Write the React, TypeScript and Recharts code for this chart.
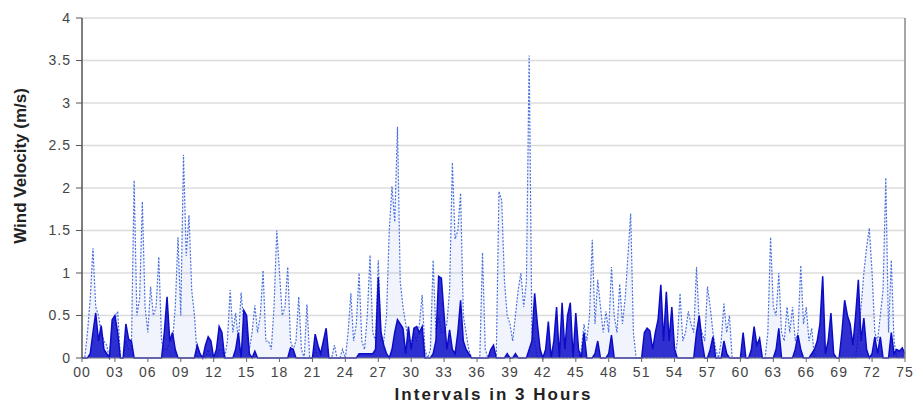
import {
  ComposedChart, Area, XAxis, YAxis, CartesianGrid, ReferenceLine,
} from 'recharts'

const SOLID = '#0c0cc8'
const DOTTED = '#4d71de'
const TICK = '#444'
const FONT = 'Liberation Sans, Arial, sans-serif'

// one row per 3-hour block, samples every 0.25 interval
const SOLID_ROWS: number[][] = [
  [0, 0, 0, 0.05, 0.3, 0.53, 0.2, 0.38, 0.1, 0.05, 0, 0.45],
  [0.5, 0.3, 0, 0, 0.4, 0.22, 0.2, 0, 0, 0, 0, 0],
  [0, 0, 0, 0, 0, 0, 0.3, 0.72, 0.2, 0.3, 0.1, 0],
  [0, 0, 0, 0, 0, 0, 0.15, 0.05, 0, 0.15, 0.25, 0.2],
  [0, 0.1, 0.37, 0.3, 0, 0, 0, 0, 0.1, 0.3, 0, 0.56],
  [0.5, 0.05, 0, 0.08, 0, 0, 0, 0, 0, 0, 0, 0],
  [0, 0, 0, 0, 0.12, 0.1, 0, 0, 0, 0, 0, 0],
  [0, 0.28, 0.15, 0.05, 0.2, 0.35, 0, 0, 0, 0, 0, 0],
  [0, 0, 0, 0, 0, 0.05, 0.05, 0.05, 0.05, 0.05, 0.05, 0.1],
  [0.95, 0.3, 0.15, 0.05, 0, 0.1, 0.3, 0.45, 0.4, 0.35, 0.05, 0.37],
  [0.1, 0.35, 0.37, 0.3, 0.37, 0, 0, 0, 0.05, 0.2, 0.96, 0.94],
  [0.5, 0.1, 0.33, 0.1, 0.05, 0.3, 0.68, 0.2, 0.1, 0.05, 0, 0],
  [0, 0, 0, 0, 0, 0.1, 0.15, 0, 0, 0, 0, 0.05],
  [0, 0, 0.05, 0, 0, 0, 0, 0.1, 0.2, 0.76, 0.4, 0.1],
  [0, 0.1, 0.43, 0, 0.2, 0.6, 0, 0.65, 0.1, 0.5, 0.65, 0],
  [0.53, 0.1, 0, 0.3, 0, 0, 0, 0.05, 0.2, 0, 0, 0],
  [0.05, 0.27, 0, 0, 0, 0, 0, 0, 0, 0, 0, 0],
  [0, 0.3, 0.35, 0.32, 0.1, 0.3, 0.45, 0.86, 0.2, 0.78, 0.2, 0.6],
  [0.1, 0, 0, 0, 0, 0, 0, 0, 0.3, 0.5, 0.2, 0],
  [0, 0.1, 0.25, 0, 0, 0, 0.2, 0.05, 0, 0, 0, 0],
  [0, 0.3, 0, 0, 0.1, 0.37, 0.15, 0.23, 0, 0, 0, 0],
  [0, 0.1, 0.35, 0, 0, 0, 0, 0, 0.1, 0.27, 0.1, 0],
  [0, 0, 0.05, 0.1, 0.2, 0.4, 0.96, 0.05, 0.2, 0.53, 0.05, 0],
  [0, 0.3, 0.68, 0.5, 0.4, 0.15, 0.5, 0.92, 0.2, 0.47, 0.1, 0],
  [0.05, 0.25, 0.05, 0.25, 0, 0, 0, 0.3, 0.05, 0.1, 0.08, 0.12, 0.05],
]

const DOTTED_ROWS: number[][] = [
  [0, 0, 0.3, 0.7, 1.29, 0.6, 0.5, 0.3, 0.2, 0.15, 0, 0.4],
  [0.45, 0.55, 0, 0, 0.2, 0.1, 0.1, 2.09, 0.5, 0.7, 1.84, 0.6],
  [0.3, 0.84, 0.5, 0.6, 1.19, 0.2, 0.1, 0.1, 0.2, 0.2, 0.6, 1.42],
  [0.5, 2.39, 1.2, 1.68, 0.8, 0.5, 0, 0, 0, 0, 0.1, 0],
  [0, 0, 0.1, 0.1, 0, 0.2, 0.8, 0.3, 0.53, 0.2, 0.77, 0.4],
  [0.3, 0.1, 0.3, 0.62, 0.3, 0.5, 1.03, 0.2, 0.2, 0.1, 0.6, 1.5],
  [1.0, 0.5, 0.6, 1.07, 0.2, 0.1, 0.2, 0.72, 0.1, 0, 0.63, 0],
  [0, 0.1, 0, 0, 0, 0, 0, 0, 0.15, 0, 0, 0.1],
  [0, 0.3, 0.76, 0.2, 0.4, 1.0, 0.2, 0.1, 0.5, 1.21, 0.3, 0.2],
  [1.15, 0.2, 0.2, 0.5, 1.5, 2.02, 1.6, 2.72, 0.9, 0.6, 0.4, 0.2],
  [0.2, 0.3, 0.2, 0.4, 0.74, 0.1, 0, 0.1, 1.15, 0.3, 0.5, 0.3],
  [0.3, 0.4, 0.8, 2.3, 1.4, 1.5, 1.94, 0.5, 0.3, 0.1, 0, 0],
  [0, 0, 1.24, 0.1, 0, 0, 0, 0, 1.96, 1.85, 0.9, 0.5],
  [0.4, 0.2, 0.5, 0.8, 1.0, 0.6, 0.9, 3.56, 0.3, 0.2, 0, 0],
  [0, 0, 0, 0, 0, 0, 0, 0, 0, 0, 0, 0],
  [0, 0, 0.1, 0.4, 0.2, 0.5, 1.39, 0.4, 0.92, 0.6, 0.3, 0.55],
  [0.3, 1.07, 0.5, 0.3, 0.87, 0.4, 0.7, 1.2, 1.7, 0.3, 0, 0],
  [0, 0, 0, 0, 0, 0, 0, 0, 0, 0, 0, 0],
  [0, 0.2, 0.76, 0.2, 0.3, 0.55, 0.4, 0.3, 1.07, 0.4, 0.3, 0.2],
  [0.84, 0.6, 0.3, 0.1, 0, 0.2, 0.64, 0.3, 0.5, 0, 0, 0],
  [0, 0, 0, 0, 0, 0, 0, 0, 0, 0, 0.3, 1.42],
  [0.6, 0.5, 1.0, 0.3, 0.2, 0.6, 0.3, 0.6, 0.2, 0.3, 1.09, 0.4],
  [0.6, 0.2, 0.35, 0, 0, 0, 0, 0, 0, 0, 0, 0],
  [0, 0, 0, 0, 0, 0, 0, 0.3, 0.6, 1.0, 1.3, 1.53],
  [1.0, 0.3, 0.2, 0.5, 0.8, 2.12, 0.3, 1.15, 0.2, 0, 0, 0, 0],
]

const X_TICKS = [0, 3, 6, 9, 12, 15, 18, 21, 24, 27, 30, 33, 36, 39, 42, 45, 48, 51, 54, 57, 60, 63, 66, 69, 72, 75]
const Y_TICKS = [0, 0.5, 1, 1.5, 2, 2.5, 3, 3.5, 4]

const solid = SOLID_ROWS.flat()
const dotted = DOTTED_ROWS.flat()
const data = solid.map((s, i) => ({ u: i / 4, solid: s, dotted: dotted[i] }))

const pad = (v: number) => String(v).padStart(2, '0')

export default function App() {
  return (
    <div style={{ position: 'absolute', left: 0, top: 0, width: 923, height: 403, background: '#fff' }}>
      <ComposedChart width={923} height={403} data={data} margin={{ top: 18, right: 18, bottom: 0, left: 0 }}>
        <CartesianGrid vertical={false} stroke="#dcdcdc" strokeWidth={1.5} />
        <XAxis
          dataKey="u" type="number" domain={[0, 75]} ticks={X_TICKS} interval={0}
          tickFormatter={pad} height={45} tickSize={4} tickMargin={5}
          tick={{ fontSize: 14, fill: TICK, fontFamily: FONT, letterSpacing: 1 }}
          axisLine={{ stroke: '#888' }} tickLine={{ stroke: '#666' }}
          label={{ value: 'Intervals in 3 Hours', position: 'insideBottom', offset: 3, style: { fontSize: 17, fontWeight: 'bold', fill: '#222', fontFamily: FONT, letterSpacing: 2 } }}
        />
        <YAxis
          domain={[0, 4]} ticks={Y_TICKS} width={82} tickSize={6} tickMargin={5}
          tick={{ fontSize: 14, fill: TICK, fontFamily: FONT, letterSpacing: 1 }}
          axisLine={{ stroke: '#555', strokeWidth: 1.5 }} tickLine={{ stroke: '#555' }}
          label={{ value: 'Wind Velocity (m/s)', angle: -90, position: 'insideLeft', dx: 15, dy: -22, style: { textAnchor: 'middle', fontSize: 17, fontWeight: 'bold', fill: '#222', fontFamily: FONT } }}
        />
        <ReferenceLine x={75} stroke="#888" strokeWidth={1.5} />
        <Area type="linear" dataKey="dotted" stroke={DOTTED} strokeWidth={1.2} strokeDasharray="2 1.5"
          fill={DOTTED} fillOpacity={0.08} dot={false} isAnimationActive={false} />
        <Area type="linear" dataKey="solid" stroke={SOLID} strokeWidth={1.5} fill={SOLID} fillOpacity={0.85}
          dot={false} isAnimationActive={false} />
      </ComposedChart>
    </div>
  )
}
